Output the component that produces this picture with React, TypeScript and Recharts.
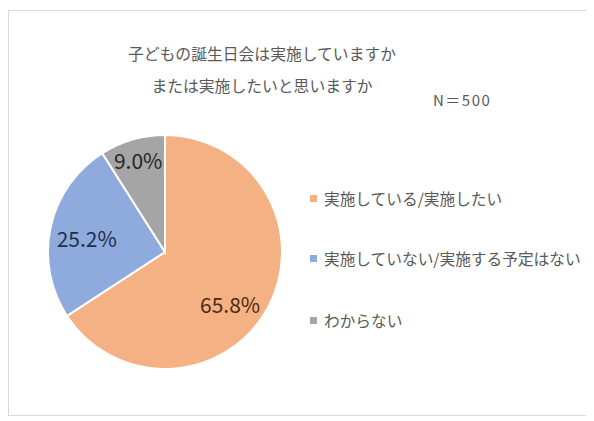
import React from "react";
import { PieChart, Pie, Cell, Legend } from "recharts";

const categories = ["実施している/実施したい", "実施していない/実施する予定はない", "わからない"];
const values = [65.8, 25.2, 9.0];
const titleLines = ["子どもの誕生日会は実施していますか", "または実施したいと思いますか"];
const nLabel = "N＝500";

const COLORS = ["#F4B183", "#8FAADC", "#A5A5A5"];
const LABEL_COLORS = ["#4E2C10", "#1E2E4D", "#262626"];
const LABEL_R = [0.71, 0.68, 0.82];
const LABEL_ANGLE_SHIFT = [-10, 2, 0];
const FONT = "'Noto Sans CJK JP', 'Noto Sans', sans-serif";

if (typeof document !== "undefined") {
  document.body.style.overflow = "hidden";
}

const data = categories.map((name, i) => ({ name, value: values[i] }));

const RADIAN = Math.PI / 180;
const renderLabel = (props: any) => {
  const { cx, cy, midAngle, outerRadius, index, value } = props;
  const r = outerRadius * LABEL_R[index];
  const a = midAngle + LABEL_ANGLE_SHIFT[index];
  const x = cx + r * Math.cos(-a * RADIAN);
  const y = cy + r * Math.sin(-a * RADIAN);
  return (
    <text
      x={x}
      y={y}
      fill={LABEL_COLORS[index]}
      textAnchor="middle"
      dominantBaseline="central"
      fontSize={21}
      fontFamily={FONT}
    >
      {`${Number(value).toFixed(1)}%`}
    </text>
  );
};

const renderLegend = () => (
  <div style={{ fontFamily: FONT }}>
    {categories.map((c, i) => (
      <div
        key={c}
        style={{
          display: "flex",
          alignItems: "center",
          height: 20,
          marginBottom: i === 0 ? 40 : 42,
          fontSize: 15.7,
          color: "#595959",
          whiteSpace: "nowrap",
        }}
      >
        <span
          style={{
            display: "inline-block",
            width: 7,
            height: 7,
            background: COLORS[i],
            marginRight: 7,
          }}
        />
        {c}
      </div>
    ))}
  </div>
);

export default function App() {
  return (
    <div
      style={{
        position: "relative",
        marginTop: 2,
        width: 620,
        height: 404,
        borderTop: "1px solid #d9d9d9",
        borderLeft: "1px solid #d9d9d9",
        borderBottom: "1px solid #d9d9d9",
        background: "#fff",
        fontFamily: FONT,
      }}
    >
      <div
        style={{
          position: "absolute",
          left: 0,
          top: 27,
          width: 506,
          textAlign: "center",
          fontSize: 15.8,
          lineHeight: "32px",
          color: "#595959",
        }}
      >
        <div>{titleLines[0]}</div>
        <div>{titleLines[1]}</div>
      </div>
      <div
        style={{
          position: "absolute",
          left: 424,
          top: 78,
          fontSize: 15,
          letterSpacing: 1.5,
          color: "#595959",
        }}
      >
        {nLabel}
      </div>
      <PieChart width={620} height={404}>
        <Pie
          data={data}
          dataKey="value"
          nameKey="name"
          cx={151}
          cy={236}
          outerRadius={117}
          startAngle={90}
          endAngle={-270}
          stroke="#ffffff"
          strokeWidth={2}
          label={renderLabel}
          labelLine={false}
          isAnimationActive={false}
        >
          {data.map((d, i) => (
            <Cell key={d.name} fill={COLORS[i]} />
          ))}
        </Pie>
        <Legend
          content={renderLegend}
          layout="vertical"
          wrapperStyle={{ position: "absolute", left: 301, top: 177, width: 290 }}
        />
      </PieChart>
    </div>
  );
}
